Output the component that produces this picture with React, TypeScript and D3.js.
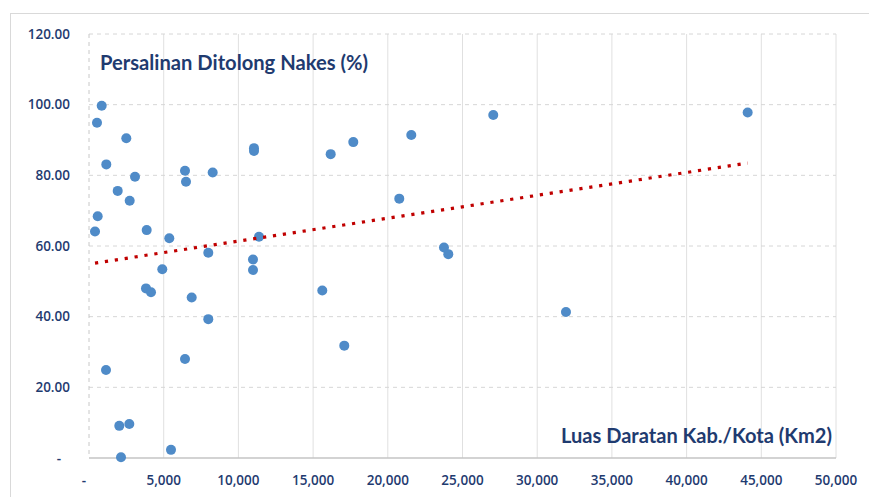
import React from "react";
import * as d3 from "d3";

const luasKm2: number[] = [
  850, 535, 2497, 1158, 3079, 6425, 6492, 8279, 11043, 11043,
  1921, 2724, 582, 402, 3862, 5375, 4906, 7985, 11378, 10977,
  10977, 3815, 4150, 6874, 7985, 1138, 6425, 2028, 2697, 2142,
  5488, 16177, 17690, 21572, 20768, 27060, 23760, 24048, 15615, 17087,
  31926, 44087,
];
const persalinanPct: number[] = [
  99.7, 94.9, 90.5, 83.1, 79.6, 81.3, 78.2, 80.8, 87.7, 86.9,
  75.6, 72.8, 68.4, 64.1, 64.5, 62.2, 53.4, 58.1, 62.6, 56.2,
  53.2, 48.0, 46.9, 45.4, 39.3, 24.9, 28.0, 9.1, 9.6, 0.2,
  2.3, 86.0, 89.4, 91.4, 73.4, 97.1, 59.6, 57.7, 47.4, 31.8,
  41.3, 97.8,
];
const xTicks: number[] = [0, 5000, 10000, 15000, 20000, 25000, 30000, 35000, 40000, 45000, 50000];
const yTicks: number[] = [0, 20, 40, 60, 80, 100, 120];
const trendIntercept = 54.9;
const trendSlope = 0.000648;
const yTitle = "Persalinan Ditolong Nakes (%)";
const xTitle = "Luas Daratan Kab./Kota (Km2)";

const W = 869;
const H = 497;
const plot = { left: 89, right: 836, top: 34, bottom: 458 };
const navy = "#1F3B70";
const font = "'Open Sans', 'DejaVu Sans', sans-serif";

export default function App() {
  const x = d3.scaleLinear().domain([0, 50000]).range([plot.left, plot.right]);
  const y = d3.scaleLinear().domain([0, 120]).range([plot.bottom, plot.top]);
  const fmtX = (v: number) => (v === 0 ? "-" : d3.format(",")(v));
  const fmtY = (v: number) => (v === 0 ? "-" : d3.format(".2f")(v));
  const xMin = d3.min(luasKm2) as number;
  const xMax = d3.max(luasKm2) as number;
  const trend = d3.line<number>()
    .x((d) => x(d))
    .y((d) => y(trendIntercept + trendSlope * d));

  return (
    <svg
      width={W}
      height={H}
      style={{ position: "absolute", left: 0, top: 0, background: "#fff" }}
    >
      <rect x={10.5} y={13.5} width={W + 10} height={H + 10} fill="#fff" stroke="#D9D9D9" />
      {xTicks.filter((t) => t > 0).map((t) => (
        <line key={"vx" + t} x1={x(t)} x2={x(t)} y1={plot.top} y2={plot.bottom} stroke="#E0E0E0" strokeWidth={1} />
      ))}
      {yTicks.filter((t) => t > 0).map((t) => (
        <line key={"hy" + t} x1={plot.left} x2={plot.right} y1={y(t)} y2={y(t)} stroke="#D6D6D6" strokeWidth={1} strokeDasharray="4 4" />
      ))}
      <line x1={plot.left} x2={plot.left} y1={plot.top} y2={plot.bottom} stroke="#C8C8C8" strokeWidth={1} strokeDasharray="4 4" />
      <line x1={plot.left} x2={plot.right} y1={plot.bottom} y2={plot.bottom} stroke="#C4C4C4" strokeWidth={1.5} />
      {yTicks.map((t) => (
        <text
          key={"yl" + t}
          x={t === 0 ? 61 : 70}
          y={y(t)}
          dy="0.35em"
          textAnchor="end"
          fontFamily={font}
          fontSize={13.5}
          fontWeight={600}
          fill={navy}
        >
          {fmtY(t)}
        </text>
      ))}
      {xTicks.map((t) => (
        <text
          key={"xl" + t}
          x={t === 0 ? x(t) - 5 : x(t)}
          y={485}
          textAnchor="middle"
          fontFamily={font}
          fontSize={13.5}
          fontWeight={600}
          fill={navy}
        >
          {fmtX(t)}
        </text>
      ))}
      {luasKm2.map((v, i) => (
        <circle key={"p" + i} cx={x(v)} cy={y(persalinanPct[i])} r={5} fill="#4F8BC8" />
      ))}
      <path
        d={trend([xMin, xMax]) as string}
        fill="none"
        stroke="#C00000"
        strokeWidth={3.2}
        strokeDasharray="3.2 6.8"
      />
      <text x={100} y={70} fontFamily="Lato, 'Open Sans', sans-serif" fontWeight={700} fontSize={20} fill={navy} textLength={268} lengthAdjust="spacingAndGlyphs">
        {yTitle}
      </text>
      <text x={561} y={443} fontFamily="Lato, 'Open Sans', sans-serif" fontWeight={700} fontSize={20} fill={navy} textLength={271} lengthAdjust="spacingAndGlyphs">
        {xTitle}
      </text>
    </svg>
  );
}
